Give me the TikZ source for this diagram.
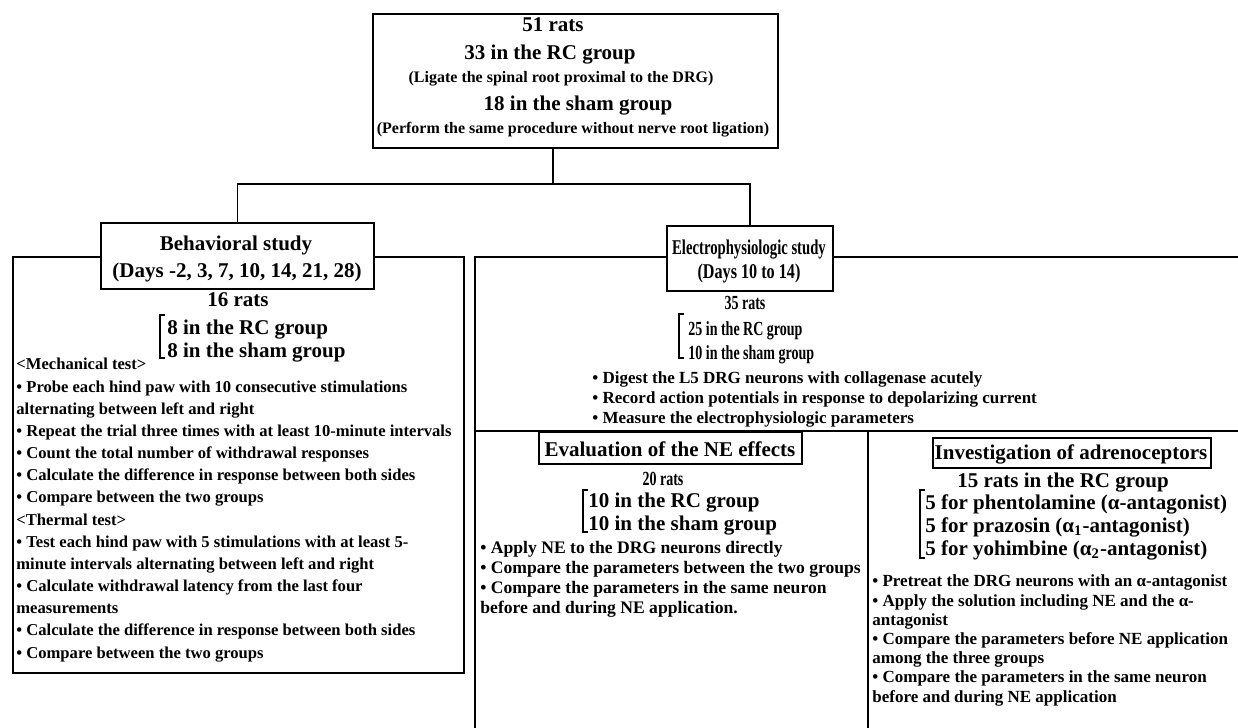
\documentclass[tikz,border=0pt]{standalone}
\usepackage{fontspec}
\usepackage{graphicx}
\setmainfont{Liberation Serif}
\usetikzlibrary{positioning}

\newcommand\narrowtext[2][0.7]{\scalebox{#1}[1]{#2}}

\tikzset{
  frame/.style={draw,line width=0.9pt,fill=white,inner sep=0pt,anchor=north west},
  link/.style={line width=0.9pt},
  big/.style={font=\bfseries\fontsize{10.5}{12}\selectfont,inner sep=0pt,anchor=base},
  small/.style={font=\bfseries\fontsize{8}{9}\selectfont,inner sep=0pt,anchor=base},
  group/.style={font=\bfseries\fontsize{10.5}{12}\selectfont,inner sep=0pt,anchor=base west},
  list/.style={font=\bfseries\fontsize{8.3}{#1}\selectfont,align=left,inner sep=0pt,anchor=base west},
  list/.default=10pt
}

\begin{document}
\begin{tikzpicture}[x=0.5pt,y=-0.5pt]
  \useasboundingbox (0,0) rectangle (1238,728);
  \node[frame,minimum width=202.5pt,minimum height=67pt] (top) at (372,13) {};
  \node[big] (toprats) at (553,32) {51 rats};
  \node[big] (toprc) at (550,60) {33 in the RC group};
  \node[small] (toprcnote) at (561,83) {(Ligate the spinal root proximal to the DRG)};
  \node[big] (topsham) at (578,110) {18 in the sham group};
  \node[small] (topshamnote) at (573,133) {(Perform the same procedure without nerve root ligation)};
  \node[frame,minimum width=225.5pt,minimum height=208pt] (behbox) at (12,256) {};
  \draw[link] (1238,257) -- (475,257) -- (475,728);
  \draw[link] (475,431) -- (1238,431);
  \draw[link] (868,431) -- (868,728);
  \node[frame,minimum width=136.5pt,minimum height=33pt] (behhead) at (100,222) {};
  \node[frame,minimum width=83pt,minimum height=32.5pt] (elehead) at (666,225) {};
  \node[frame,minimum width=131.5pt,minimum height=16pt] (evalhead) at (538,431) {};
  \node[frame,minimum width=139pt,minimum height=15pt] (invhead) at (932,437) {};
  \coordinate (split) at (553,184);
  \draw[link] (top.south -| split) -- (split);
  \draw[link] (behhead.north) |- (split) -| (elehead.north);
  \node[big] (behtitle) at (236,250) {Behavioral study};
  \node[big] (behdays) at (237,277) {(Days -2, 3, 7, 10, 14, 21, 28)};
  \node[big] (behrats) at (238,306) {16 rats};
  \draw[link] (165,315) -- (160,315) -- (160,358) -- (165,358);
  \node[group] (behrc) at (167,334) {8 in the RC group};
  \node[group] (behsham) at (167,357) {8 in the sham group};
  \node[list=11.08pt] (behlist) at (16,658) {<Mechanical test>\\
    • Probe each hind paw with 10 consecutive stimulations\\
    alternating between left and right\\
    • Repeat the trial three times with at least 10-minute intervals\\
    • Count the total number of withdrawal responses\\
    • Calculate the difference in response between both sides\\
    • Compare between the two groups\\
    <Thermal test>\\
    • Test each hind paw with 5 stimulations with at least 5-\\
    minute intervals alternating between left and right\\
    • Calculate withdrawal latency from the last four\\
    measurements\\
    • Calculate the difference in response between both sides\\
    • Compare between the two groups};
  \node[big] (eletitle) at (749,254) {\narrowtext{Electrophysiologic study}};
  \node[big] (eledays) at (749,278) {\narrowtext[0.77]{(Days 10 to 14)}};
  \node[big,font=\bfseries\fontsize{10}{12}\selectfont] (elerats) at (745,309) {\narrowtext{35 rats}};
  \draw[link] (684,314) -- (679,314) -- (679,358) -- (684,358);
  \node[group,font=\bfseries\fontsize{10}{12}\selectfont] (elerc) at (688,335) {\narrowtext{25 in the RC group}};
  \node[group,font=\bfseries\fontsize{10}{12}\selectfont] (elesham) at (688,359) {\narrowtext{10 in the sham group}};
  \node[list=10pt,font=\bfseries\fontsize{8.5}{10}\selectfont] (elelist) at (592,423) {• Digest the L5 DRG neurons with collagenase acutely\\
    • Record action potentials in response to depolarizing current\\
    • Measure the electrophysiologic parameters};
  \node[big] (evaltitle) at (670,456) {Evaluation of the NE effects};
  \node[big,font=\bfseries\fontsize{10}{12}\selectfont] (evalrats) at (663,485) {\narrowtext{20 rats}};
  \draw[link] (588,490) -- (583,490) -- (583,532) -- (588,532);
  \node[group] (evalrc) at (588,507) {10 in the RC group};
  \node[group] (evalsham) at (588,530) {10 in the sham group};
  \node[list=10pt,font=\bfseries\fontsize{8.8}{10}\selectfont] (evallist) at (480,613) {• Apply NE to the DRG neurons directly\\
    • Compare the parameters between the two groups\\
    • Compare the parameters in the same neuron\\
    before and during NE application.};
  \node[big] (invtitle) at (1071,459) {Investigation of adrenoceptors};
  \node[big] (invrats) at (1063,487) {15 rats in the RC group};
  \draw[link] (925,490) -- (920,490) -- (920,558) -- (925,558);
  \node[group] (invphen) at (925,509) {5 for phentolamine (α-antagonist)};
  \node[group] (invpraz) at (925,532) {5 for prazosin (α\textsubscript{1}-antagonist)};
  \node[group] (invyoh) at (925,555) {5 for yohimbine (α\textsubscript{2}-antagonist)};
  \node[list,font=\bfseries\fontsize{8.5}{9.6}\selectfont] (invlist) at (872,702) {• Pretreat the DRG neurons with an α-antagonist\\
    • Apply the solution including NE and the α-\\
    antagonist\\
    • Compare the parameters before NE application\\
    among the three groups\\
    • Compare the parameters in the same neuron\\
    before and during NE application};
\end{tikzpicture}
\end{document}
